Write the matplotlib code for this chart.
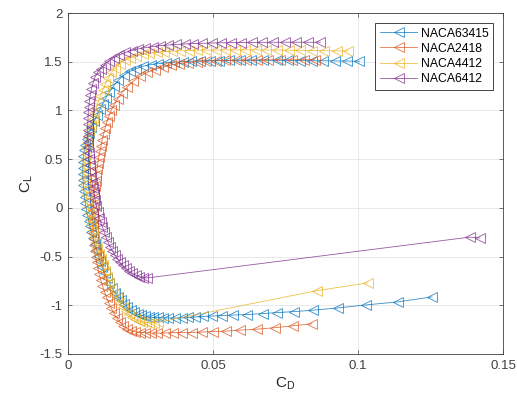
import matplotlib
matplotlib.use('Agg')
import matplotlib.pyplot as plt

plt.rcParams['font.family'] = ['Liberation Sans', 'DejaVu Sans']
plt.rcParams['mathtext.default'] = 'regular'

names = ['NACA63415', 'NACA2418', 'NACA4412', 'NACA6412']
colors = ['#0072BD', '#D95319', '#EDB120', '#7E2F8E']

# NACA63415
cd_63415 = [0.1255, 0.1138, 0.1028, 0.0931, 0.0845, 0.0779, 0.0721, 0.0672, 0.0617, 0.0569,
            0.0531, 0.0497, 0.0466, 0.0438, 0.0414, 0.0393, 0.0369, 0.0345, 0.0328, 0.0310,
            0.0293, 0.0278, 0.0265, 0.0252, 0.0240, 0.0228, 0.0216, 0.0205, 0.0194, 0.0183,
            0.0172, 0.0162, 0.0152, 0.0143, 0.0134, 0.0126, 0.0118, 0.0111, 0.0104, 0.0098,
            0.0092, 0.0086, 0.0081, 0.0076, 0.0071, 0.0067, 0.0063, 0.0060, 0.0057, 0.0055,
            0.0053, 0.0052, 0.0051, 0.0051, 0.0052, 0.0053, 0.0056, 0.0060, 0.0066, 0.0073,
            0.0081, 0.0090, 0.0100, 0.0110, 0.0120, 0.0131, 0.0143, 0.0157, 0.0173, 0.0192,
            0.0213, 0.0236, 0.0260, 0.0285, 0.0311, 0.0338, 0.0366, 0.0395, 0.0425, 0.0456,
            0.0488, 0.0521, 0.0556, 0.0593, 0.0632, 0.0674, 0.0720, 0.0760, 0.0800, 0.0840,
            0.0880, 0.0920, 0.0962, 0.1005]
cl_63415 = [-0.914, -0.965, -0.996, -1.027, -1.05, -1.065, -1.075, -1.085, -1.095, -1.10,
            -1.105, -1.11, -1.115, -1.12, -1.125, -1.13, -1.13, -1.13, -1.13, -1.125,
            -1.125, -1.12, -1.11, -1.10, -1.09, -1.07, -1.05, -1.02, -0.99, -0.95,
            -0.91, -0.87, -0.82, -0.77, -0.72, -0.67, -0.61, -0.55, -0.49, -0.43,
            -0.37, -0.31, -0.25, -0.19, -0.13, -0.07, -0.01, 0.05, 0.11, 0.17,
            0.23, 0.29, 0.35, 0.41, 0.47, 0.53, 0.59, 0.65, 0.71, 0.77,
            0.83, 0.89, 0.95, 1.01, 1.07, 1.13, 1.19, 1.25, 1.31, 1.36,
            1.40, 1.43, 1.455, 1.47, 1.48, 1.49, 1.495, 1.50, 1.505, 1.51,
            1.51, 1.512, 1.515, 1.515, 1.515, 1.515, 1.515, 1.513, 1.512, 1.51,
            1.51, 1.508, 1.507, 1.505]

# NACA2418
cd_2418 = [0.0841, 0.0776, 0.0714, 0.0652, 0.0593, 0.0545, 0.0500, 0.0462, 0.0428, 0.0393,
           0.0362, 0.0334, 0.0307, 0.0285, 0.0265, 0.0247, 0.0231, 0.0217, 0.0204, 0.0191,
           0.0179, 0.0168, 0.0158, 0.0149, 0.0141, 0.0133, 0.0126, 0.0119, 0.0113, 0.0108,
           0.0103, 0.0099, 0.0095, 0.0092, 0.0090, 0.0088, 0.0087, 0.0086, 0.0086, 0.0086,
           0.0087, 0.0088, 0.0089, 0.0091, 0.0093, 0.0095, 0.0097, 0.0100, 0.0103, 0.0106,
           0.0110, 0.0114, 0.0118, 0.0123, 0.0128, 0.0134, 0.0141, 0.0149, 0.0159, 0.0171,
           0.0186, 0.0204, 0.0225, 0.0248, 0.0273, 0.0299, 0.0326, 0.0354, 0.0383, 0.0413,
           0.0444, 0.0476, 0.0509, 0.0543, 0.0578, 0.0614, 0.0651, 0.0690, 0.0730, 0.0772,
           0.0815, 0.0850]
cl_2418 = [-1.19, -1.21, -1.23, -1.245, -1.255, -1.265, -1.27, -1.275, -1.28, -1.28,
           -1.28, -1.285, -1.285, -1.285, -1.28, -1.28, -1.27, -1.26, -1.24, -1.21,
           -1.17, -1.13, -1.08, -1.03, -0.98, -0.92, -0.86, -0.80, -0.74, -0.68,
           -0.62, -0.56, -0.50, -0.44, -0.38, -0.32, -0.26, -0.20, -0.14, -0.08,
           -0.02, 0.04, 0.10, 0.16, 0.22, 0.28, 0.34, 0.40, 0.46, 0.52,
           0.58, 0.64, 0.70, 0.76, 0.82, 0.88, 0.94, 1.00, 1.06, 1.12,
           1.18, 1.24, 1.30, 1.35, 1.39, 1.42, 1.445, 1.465, 1.48, 1.49,
           1.50, 1.505, 1.51, 1.513, 1.515, 1.517, 1.518, 1.519, 1.52, 1.52,
           1.52, 1.52]

# NACA4412
cd_4412 = [0.1034, 0.0858, 0.0310, 0.0295, 0.0281, 0.0268, 0.0256, 0.0244, 0.0232, 0.0221,
           0.0210, 0.0199, 0.0189, 0.0179, 0.0169, 0.0160, 0.0151, 0.0143, 0.0135, 0.0127,
           0.0120, 0.0113, 0.0107, 0.0101, 0.0096, 0.0091, 0.0086, 0.0081, 0.0077, 0.0073,
           0.0069, 0.0066, 0.0063, 0.0061, 0.0059, 0.0058, 0.0058, 0.0058, 0.0059, 0.0061,
           0.0063, 0.0066, 0.0070, 0.0074, 0.0079, 0.0085, 0.0091, 0.0098, 0.0105, 0.0112,
           0.0120, 0.0129, 0.0139, 0.0150, 0.0163, 0.0178, 0.0195, 0.0214, 0.0235, 0.0257,
           0.0281, 0.0306, 0.0332, 0.0359, 0.0387, 0.0416, 0.0446, 0.0477, 0.0509, 0.0542,
           0.0576, 0.0611, 0.0647, 0.0684, 0.0722, 0.0761, 0.0801, 0.0842, 0.0884, 0.0926,
           0.0965]
cl_4412 = [-0.77, -0.85, -1.175, -1.18, -1.18, -1.175, -1.17, -1.16, -1.14, -1.12,
           -1.09, -1.06, -1.02, -0.98, -0.93, -0.88, -0.83, -0.77, -0.71, -0.65,
           -0.59, -0.53, -0.47, -0.41, -0.35, -0.29, -0.23, -0.17, -0.11, -0.05,
           0.01, 0.07, 0.13, 0.19, 0.25, 0.31, 0.37, 0.43, 0.49, 0.55,
           0.61, 0.67, 0.73, 0.79, 0.85, 0.91, 0.97, 1.03, 1.09, 1.15,
           1.21, 1.27, 1.33, 1.39, 1.44, 1.48, 1.515, 1.54, 1.56, 1.575,
           1.587, 1.596, 1.603, 1.608, 1.612, 1.615, 1.618, 1.62, 1.62, 1.622,
           1.622, 1.622, 1.622, 1.62, 1.62, 1.618, 1.617, 1.615, 1.613, 1.611,
           1.61]

# NACA6412
cd_6412 = [0.1420, 0.1386, 0.0272, 0.0258, 0.0245, 0.0233, 0.0221, 0.0210, 0.0199, 0.0189,
           0.0179, 0.0170, 0.0161, 0.0153, 0.0145, 0.0138, 0.0131, 0.0125, 0.0119, 0.0113,
           0.0108, 0.0103, 0.0098, 0.0094, 0.0090, 0.0086, 0.0083, 0.0080, 0.0077, 0.0075,
           0.0073, 0.0071, 0.0070, 0.0069, 0.0068, 0.0068, 0.0068, 0.0069, 0.0070, 0.0072,
           0.0074, 0.0077, 0.0081, 0.0086, 0.0093, 0.0102, 0.0113, 0.0126, 0.0141, 0.0158,
           0.0177, 0.0198, 0.0220, 0.0243, 0.0267, 0.0292, 0.0318, 0.0345, 0.0373, 0.0402,
           0.0432, 0.0463, 0.0495, 0.0528, 0.0562, 0.0597, 0.0633, 0.0670, 0.0708, 0.0747,
           0.0787, 0.0828, 0.0870]
cl_6412 = [-0.31, -0.30, -0.72, -0.715, -0.705, -0.69, -0.67, -0.65, -0.62, -0.59,
           -0.56, -0.52, -0.48, -0.44, -0.40, -0.35, -0.30, -0.25, -0.20, -0.15,
           -0.10, -0.04, 0.02, 0.08, 0.14, 0.20, 0.26, 0.32, 0.38, 0.44,
           0.50, 0.56, 0.62, 0.68, 0.74, 0.80, 0.86, 0.92, 0.98, 1.04,
           1.10, 1.16, 1.22, 1.28, 1.34, 1.39, 1.43, 1.47, 1.51, 1.54,
           1.57, 1.595, 1.615, 1.632, 1.645, 1.655, 1.664, 1.671, 1.677, 1.682,
           1.686, 1.689, 1.692, 1.694, 1.696, 1.697, 1.698, 1.699, 1.70, 1.70,
           1.70, 1.70, 1.70]

cds = [cd_63415, cd_2418, cd_4412, cd_6412]
cls = [cl_63415, cl_2418, cl_4412, cl_6412]

fig = plt.figure(figsize=(5.17, 4.0), dpi=100)
ax = fig.add_axes([0.1315, 0.115, 0.8415, 0.8525])

for i in range(4):
    ax.plot(cds[i], cls[i], '-<', color=colors[i], label=names[i], linewidth=0.6,
            markersize=6.5, markerfacecolor='none', markeredgewidth=0.6, alpha=0.8)

ax.set_xlim(0, 0.15)
ax.set_ylim(-1.5, 2)
ax.set_xticks([0, 0.05, 0.1, 0.15])
ax.set_xticklabels(['0', '0.05', '0.1', '0.15'])
ax.set_yticks([-1.5, -1, -0.5, 0, 0.5, 1, 1.5, 2])
ax.set_yticklabels(['-1.5', '-1', '-0.5', '0', '0.5', '1', '1.5', '2'])
ax.tick_params(direction='in', top=True, right=True, labelsize=9.5, colors='#404040',
               length=3, width=0.5, pad=4)
for s in ax.spines.values():
    s.set_color('#404040')
    s.set_linewidth(0.6)
ax.grid(color='#e0e0e0', linestyle='-', linewidth=0.5)
ax.set_axisbelow(True)
ax.set_xlabel('$C_D$', fontsize=11, color='#262626', labelpad=3)
ax.set_ylabel('$C_L$', fontsize=11, color='#262626', labelpad=3)

leg = ax.legend(loc='upper right', fontsize=8.8, fancybox=False, framealpha=1,
                edgecolor='#262626', borderaxespad=0.8, handlelength=3,
                handletextpad=0.3, labelspacing=0.25, borderpad=0.4)
leg.get_frame().set_linewidth(0.6)

plt.savefig('out.png', dpi=100)
